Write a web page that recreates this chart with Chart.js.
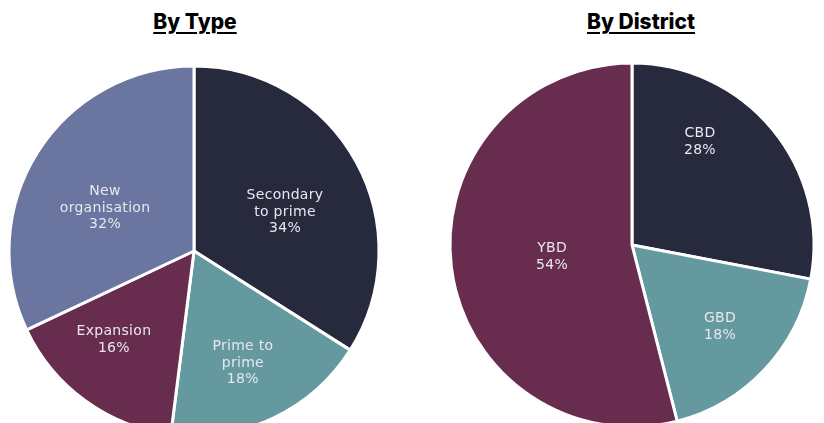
<!DOCTYPE html>
<html>
<head>
<meta charset="utf-8">
<script src="https://cdn.jsdelivr.net/npm/chart.js@4"></script>
<style>
  html, body { margin: 0; padding: 0; background: #fff; }
  body { width: 824px; height: 423px; overflow: hidden; position: relative; font-family: Inter, "Open Sans", sans-serif; }
  .title { position: absolute; top: 9px; font-weight: 800; font-size: 21px; color: #000; text-decoration: underline; text-decoration-thickness: 2px; text-underline-offset: 3px; transform: translateX(-50%); white-space: nowrap; }
  canvas { position: absolute; top: 0; }
</style>
</head>
<body>
<div class="title" style="left:195px">By Type</div>
<div class="title" style="left:641px">By District</div>
<canvas id="typeChart" style="left:0px" width="388" height="502"></canvas>
<canvas id="districtChart" style="left:442px" width="380" height="490"></canvas>
<script>
// By Type
const typeLabels = [["Secondary", "to prime"], ["Prime to", "prime"], ["Expansion"], ["New", "organisation"]];
const typeValues = [34, 18, 16, 32];
const typeColors = ["#272a3d", "#64999f", "#682d4e", "#6a75a0"];

// By District
const districtLabels = [["CBD"], ["GBD"], ["YBD"]];
const districtValues = [28, 18, 54];
const districtColors = ["#272a3d", "#64999f", "#682d4e"];

// label placement inside each slice: [fraction of radius, degrees turned from mid angle]
const typeLabelPlace = [[0.535, 5.6], [0.66, 1.6], [0.647, 6], [0.534, -6.6]];
const districtLabelPlace = [[0.678, -17], [0.661, -0.2], [0.444, -1.3]];

// draws the label + percentage inside each slice
const sliceLabels = {
	id: "sliceLabels",
	afterDatasetsDraw(chart, args, opts) {
		const ctx = chart.ctx;
		const meta = chart.getDatasetMeta(0);
		const lines = chart.data.labels;
		const values = chart.data.datasets[0].data;
		ctx.save();
		ctx.fillStyle = "#e6e8ee";
		ctx.font = "14px 'DejaVu Sans', sans-serif";
		ctx.letterSpacing = "0.3px";
		ctx.textAlign = "center";
		ctx.textBaseline = "middle";
		meta.data.forEach((arc, i) => {
			const place = opts.place[i];
			const mid = (arc.startAngle + arc.endAngle) / 2 + place[1] * Math.PI / 180;
			const r = arc.outerRadius * place[0];
			const x = arc.x + Math.cos(mid) * r;
			const y = arc.y + Math.sin(mid) * r;
			const text = [...lines[i], values[i] + "%"];
			const lh = 16.5;
			const top = y - (text.length - 1) * lh / 2;
			text.forEach((t, j) => ctx.fillText(t, x, top + j * lh));
		});
		ctx.restore();
	},
};

function makePie(id, labels, values, colors, radius, place) {
	return new Chart(document.getElementById(id), {
		type: "pie",
		data: {
			labels: labels,
			datasets: [{
				data: values,
				backgroundColor: colors,
				borderColor: "#ffffff",
				borderWidth: 3,
				hoverOffset: 0,
			}],
		},
		options: {
			responsive: false,
			animation: false,
			radius: radius,
			layout: { padding: 0 },
			plugins: {
				legend: { display: false },
				tooltip: { enabled: false },
				sliceLabels: { place: place },
			},
		},
		plugins: [sliceLabels],
	});
}

makePie("typeChart", typeLabels, typeValues, typeColors, 185, typeLabelPlace);
makePie("districtChart", districtLabels, districtValues, districtColors, 182, districtLabelPlace);
</script>
</body>
</html>
